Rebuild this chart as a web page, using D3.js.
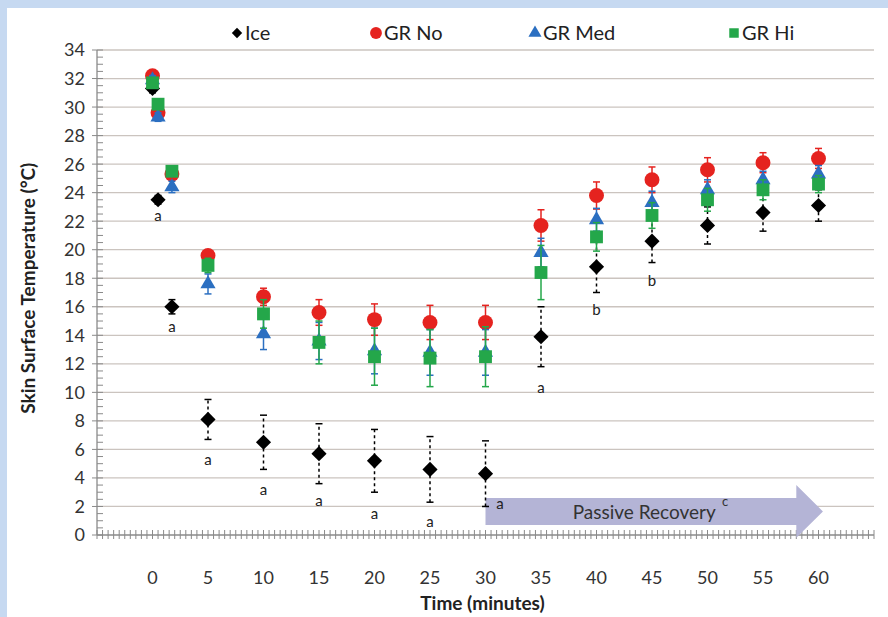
<!DOCTYPE html>
<html lang="en">
<head>
<meta charset="UTF-8">
<title>Skin Surface Temperature</title>
<script src="https://d3js.org/d3.v7.min.js"></script>
<style>
body { margin: 0; background: #c6d9f1; }
svg { display: block; font-family: Lato, "Open Sans", sans-serif; }
.grid line { stroke: #cbc4bf; stroke-width: 1.3; }
.tick-label { font-size: 18px; fill: #333; }
.axis-title { font-size: 19px; font-weight: bold; fill: #222; }
.legend text { font-size: 20px; fill: #222; }
.letter { font-size: 15px; fill: #222; }
</style>
</head>
<body>
<svg id="chart" width="888" height="617"></svg>
<script>

// time points (minutes)
const times = [0, 0.5, 1.75, 5, 10, 15, 20, 25, 30, 35, 40, 45, 50, 55, 60];

// series means
const ice   = [31.3, 23.5, 16.0, 8.1, 6.5, 5.7, 5.2, 4.6, 4.3, 13.9, 18.8, 20.6, 21.7, 22.6, 23.1];
const grNo  = [32.2, 29.6, 25.3, 19.6, 16.7, 15.6, 15.1, 14.9, 14.9, 21.7, 23.8, 24.9, 25.6, 26.1, 26.4];
const grMed = [31.9, 29.3, 24.4, 17.6, 14.1, 13.6, 12.9, 12.8, 12.8, 19.8, 22.1, 23.3, 24.2, 24.9, 25.3];
const grHi  = [31.7, 30.2, 25.5, 18.9, 15.5, 13.5, 12.5, 12.4, 12.5, 18.4, 20.9, 22.4, 23.5, 24.2, 24.6];

// error bars (+/-)
const iceErr   = [0.3, 0.3, 0.5, 1.4, 1.9, 2.1, 2.2, 2.3, 2.3, 2.1, 1.8, 1.5, 1.3, 1.3, 1.1];
const grNoErr  = [0.2, 0.3, 0.3, 0.3, 0.6, 0.9, 1.1, 1.2, 1.2, 1.1, 0.95, 0.9, 0.85, 0.7, 0.7];
const grMedErr = [0.3, 0.3, 0.4, 0.7, 1.1, 1.3, 1.6, 1.6, 1.6, 1.0, 0.8, 0.8, 0.7, 0.6, 0.6];
const grHiErr  = [0.3, 0.3, 0.3, 0.5, 1.0, 1.5, 2.0, 2.0, 2.1, 1.9, 1.0, 0.9, 0.8, 0.7, 0.6];

const seriesNames = ["Ice", "GR No", "GR Med", "GR Hi"];
const xTicks = [0, 5, 10, 15, 20, 25, 30, 35, 40, 45, 50, 55, 60];
const yTicks = d3.range(0, 35, 2);

// significance letters: [time, value, text]
const letters = [
    [0.5, 22.4, "a"], [1.75, 14.6, "a"], [5, 5.3, "a"], [10, 3.2, "a"],
    [15, 2.4, "a"], [20, 1.5, "a"], [25, 0.9, "a"], [31.3, 2.2, "a"],
    [35, 10.3, "a"], [40, 15.8, "b"], [45, 17.8, "b"]
];

const svg = d3.select("#chart");

// white panel inside the blue frame
svg.append("rect").attr("x", 7).attr("y", 8).attr("width", 881).attr("height", 609).attr("fill", "#fff");

const x = d3.scaleLinear().domain([-5, 65]).range([97, 874]);
const y = d3.scaleLinear().domain([0, 34]).range([535, 50]);

// horizontal grid
svg.append("g").attr("class", "grid")
    .selectAll("line")
    .data(yTicks.filter(d => d > 0))
    .enter()
    .append("line")
    .attr("x1", x(-5)).attr("x2", x(65))
    .attr("y1", d => y(d)).attr("y2", d => y(d));

// y axis line + ticks
const axisColor = "#8a8a8a";
svg.append("line").attr("x1", x(-5)).attr("x2", x(-5)).attr("y1", y(0)).attr("y2", y(34))
    .attr("stroke", axisColor).attr("stroke-width", 1.3);
svg.append("g").selectAll("line")
    .data(d3.range(0, 34.01, 0.5))
    .enter()
    .append("line")
    .attr("x1", d => d % 2 === 0 ? x(-5) - 5 : x(-5))
    .attr("x2", x(-5) + 6)
    .attr("y1", d => y(d)).attr("y2", d => y(d))
    .attr("stroke", axisColor).attr("stroke-width", 1);
svg.append("g").selectAll("text")
    .data(yTicks)
    .enter()
    .append("text")
    .attr("class", "tick-label")
    .attr("x", 85)
    .attr("y", d => y(d))
    .attr("dy", "0.36em")
    .attr("text-anchor", "end")
    .text(d => d);

// x axis line + minor ticks
svg.append("line").attr("x1", x(-5)).attr("x2", x(65)).attr("y1", y(0)).attr("y2", y(0))
    .attr("stroke", axisColor).attr("stroke-width", 1.3);
svg.append("g").selectAll("line")
    .data(d3.range(-5, 65.01, 0.5))
    .enter()
    .append("line")
    .attr("x1", d => x(d)).attr("x2", d => x(d))
    .attr("y1", y(0) - 5).attr("y2", y(0) + 4)
    .attr("stroke", axisColor).attr("stroke-width", 1);
svg.append("g").selectAll("text")
    .data(xTicks)
    .enter()
    .append("text")
    .attr("class", "tick-label")
    .attr("x", d => x(d))
    .attr("y", 584)
    .attr("text-anchor", "middle")
    .text(d => d);

// axis titles
svg.append("text").attr("class", "axis-title")
    .attr("x", x(30) - 3).attr("y", 610)
    .attr("text-anchor", "middle")
    .text("Time (minutes)");
svg.append("text").attr("class", "axis-title")
    .attr("transform", "translate(35," + y(17.3) + ") rotate(-90)")
    .attr("text-anchor", "middle")
    .text("Skin Surface Temperature (°C)");

// passive recovery arrow (data coords)
const arrowPts = [
    [30, 2.6], [58, 2.6], [58, 3.5], [60.4, 1.65], [58, -0.2], [58, 0.7], [30, 0.7]
];
svg.append("path")
    .attr("d", d3.line().x(d => x(d[0])).y(d => y(d[1]))(arrowPts) + "Z")
    .attr("fill", "#b4b4d6");
svg.append("text")
    .attr("x", x(44.3)).attr("y", y(1.6)).attr("dy", "0.35em")
    .attr("text-anchor", "middle")
    .attr("font-size", 19).attr("fill", "#333")
    .text("Passive Recovery");
svg.append("text")
    .attr("x", x(51.3)).attr("y", y(2.0))
    .attr("font-size", 13).attr("fill", "#333")
    .text("c");

// series
const colors = ["#000000", "#e5231f", "#2b6fc1", "#24a74a"];
const means = [ice, grNo, grMed, grHi];
const errs = [iceErr, grNoErr, grMedErr, grHiErr];
const shapes = [d3.symbolDiamond, d3.symbolCircle, d3.symbolTriangle, d3.symbolSquare];
const sizes = [150, 175, 100, 165];

function symbolPath(i, s) {
    if (i === 0) {
        // wide diamond like Excel's
        const r = Math.sqrt(s) * 0.62;
        return `M0,${-r}L${r},0L0,${r}L${-r},0Z`;
    }
    return d3.symbol().type(shapes[i]).size(s)();
}

means.forEach((vals, i) => {
    const g = svg.append("g");
    const pts = times.map((t, k) => ({ t: t, v: vals[k], e: errs[i][k] }));
    const col = colors[i];
    const dash = i === 0 ? "3,3" : null;

    // error bars
    g.selectAll(".eb").data(pts).enter().append("line")
        .attr("x1", d => x(d.t)).attr("x2", d => x(d.t))
        .attr("y1", d => y(d.v - d.e)).attr("y2", d => y(d.v + d.e))
        .attr("stroke", col).attr("stroke-width", 1.5)
        .attr("stroke-dasharray", dash);
    [1, -1].forEach(sign => {
        g.selectAll(".cap" + sign).data(pts).enter().append("line")
            .attr("x1", d => x(d.t) - 3.5).attr("x2", d => x(d.t) + 3.5)
            .attr("y1", d => y(d.v + sign * d.e)).attr("y2", d => y(d.v + sign * d.e))
            .attr("stroke", col).attr("stroke-width", 1.5);
    });

    // markers
    g.selectAll(".m").data(pts).enter().append("path")
        .attr("transform", d => `translate(${x(d.t)},${y(d.v)})`)
        .attr("d", symbolPath(i, sizes[i]))
        .attr("fill", col);
});

// significance letters
svg.append("g").selectAll("text")
    .data(letters)
    .enter()
    .append("text")
    .attr("class", "letter")
    .attr("x", d => x(d[0])).attr("y", d => y(d[1]))
    .attr("dy", "0.35em")
    .attr("text-anchor", "middle")
    .text(d => d[2]);

// legend
const legendX = [237, 376, 535, 734];
const legendSizes = [70, 110, 75, 90];
const legend = svg.append("g").attr("class", "legend");
seriesNames.forEach((name, i) => {
    legend.append("path")
        .attr("transform", `translate(${legendX[i]},33)`)
        .attr("d", symbolPath(i, legendSizes[i]))
        .attr("fill", colors[i]);
    legend.append("text")
        .attr("x", legendX[i] + 8).attr("y", 33).attr("dy", "0.36em")
        .text(name);
});
</script>
</body>
</html>
